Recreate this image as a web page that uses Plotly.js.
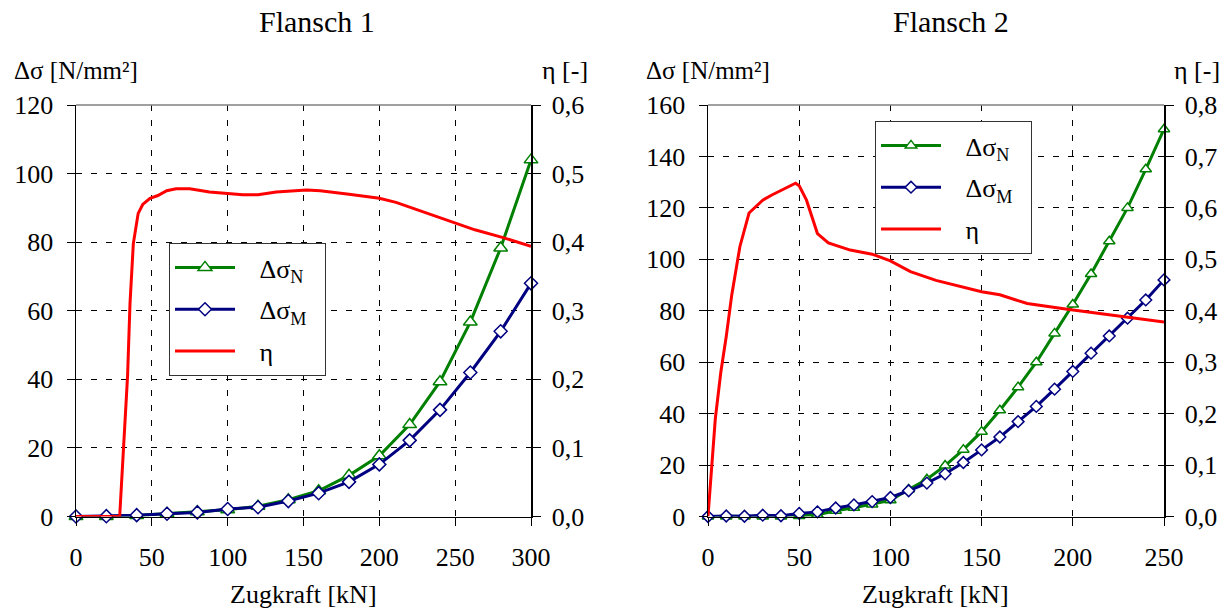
<!DOCTYPE html>
<html>
<head>
<meta charset="utf-8">
<script src="https://cdn.plot.ly/plotly-3.0.1.min.js"></script>
<style>html,body{margin:0;padding:0;background:#fff;}#chart{width:1229px;height:610px;}</style>
</head>
<body>
<div id="chart"></div>
<script>
// ---- Flansch 1 ----
const force1 = [0,20,40,60,80,100,120,140,160,180,200,220,240,260,280,300];
const dsN1 = [0,0,0.3,0.9,1.4,2,3,4.9,7.5,12,17.7,26.8,39.3,56.7,78.3,104];
const dsM1 = [0,0.1,0.4,0.8,1.2,2.2,2.7,4.5,6.8,10.1,15.2,22.2,31.1,42,54,68];
const etaX1 = [0,28.8,34,35.6,37.8,41,44,48.8,54,59.8,66,75,88,110,120,132,152,161,180,200,211,237,263,281,300];
const eta1 = [0,0,0.205,0.31,0.398,0.442,0.455,0.464,0.468,0.475,0.478,0.478,0.473,0.469,0.469,0.473,0.476,0.475,0.47,0.464,0.458,0.438,0.418,0.407,0.394];

// ---- Flansch 2 ----
const force2 = [0,10,20,30,40,50,60,70,80,90,100,110,120,130,140,150,160,170,180,190,200,210,220,230,240,250];
const dsN2 = [0,0,0,0,0,0.2,0.7,2.2,3.4,4.7,6.3,10.5,14.5,19.8,26,33,41.3,50.3,60,71.2,82.4,94.3,107,120,135,150.6];
const dsM2 = [0,0.2,0.1,0.5,0.3,1.2,1.8,3.3,4.5,5.8,7.4,10,13,16.6,21,25.9,30.9,36.9,42.8,49.5,56.4,63.5,70.2,77.1,84.2,92];
const etaX2 = [0,2,4,7,10,13,17.5,22.5,30,35,41,48,50,54,60,66,78,90,100,111,125,135,150,160,175,197,210,220,229,250];
const eta2 = [0,0.097,0.19,0.28,0.35,0.43,0.525,0.59,0.615,0.625,0.635,0.648,0.643,0.615,0.55,0.532,0.518,0.51,0.497,0.476,0.459,0.45,0.437,0.431,0.414,0.403,0.397,0.392,0.388,0.378];

// labels
const NB = '\u00a0';
const nameN = NB + NB + NB + 'Δσ<sub>N</sub>' + NB + NB;
const nameM = NB + NB + NB + 'Δσ<sub>M</sub>' + NB + NB;
const nameEta = NB + NB + NB + 'η<sub>' + NB + '</sub>';
const titles = ['Flansch 1', 'Flansch 2'];
const xTitle = 'Zugkraft [kN]';
const yTitle = 'Δσ [N/mm²]';
const y2Title = 'η [-]';

const GREEN = '#008000', NAVY = '#000080', RED = '#FF0000';
const FONT = 'Liberation Serif';
const W = 1229, H = 610;
const px = v => v / W;
const py = v => 1 - v / H;

function traces(fx, n, m, ex, e, xa, ya, ya2, leg, msT, msD) {
  return [
    {x: fx, y: n, xaxis: xa, yaxis: ya, name: nameN, legend: leg, legendgroup: leg + 'N', type: 'scatter', mode: 'lines+markers',
     cliponaxis: false,
     line: {color: GREEN, width: 3}, marker: {symbol: 'triangle-up', size: msT, color: '#fff', line: {color: GREEN, width: 1.5}}},
    {x: fx, y: m, xaxis: xa, yaxis: ya, name: nameM, legend: leg, legendgroup: leg + 'M', type: 'scatter', mode: 'lines+markers',
     cliponaxis: false,
     line: {color: NAVY, width: 3}, marker: {symbol: 'diamond', size: msD, color: '#fff', line: {color: NAVY, width: 1.5}}},
    {x: ex, y: e, xaxis: xa, yaxis: ya2, name: nameEta, legend: leg, legendgroup: leg + 'E', type: 'scatter', mode: 'lines',
     line: {color: RED, width: 3}}
  ];
}

const data = [
  ...traces(force1, dsN1, dsM1, etaX1, eta1, 'x', 'y', 'y2', 'legend', 12, 10),
  ...traces(force2, dsN2, dsM2, etaX2, eta2, 'x2', 'y3', 'y4', 'legend2', 10, 9)
];

const ydom = [1 - 516.5 / H, 1 - 105 / H];
const tickfont = () => ({family: FONT, size: 26, color: '#000'});
const grid = {showgrid: true, gridcolor: '#000', gridwidth: 1, griddash: '6px,9px'};

function xax(dom, anchor, range, dt) {
  return Object.assign({domain: dom, anchor: anchor, range: range, dtick: dt, tick0: 0,
    showline: true, linecolor: '#000', linewidth: 1.5, ticks: 'outside', ticklen: 8, tickcolor: '#000',
    zeroline: false, tickfont: tickfont(), ticklabelstandoff: 9, automargin: false, fixedrange: true}, grid);
}
function yax(anchor, range, dt) {
  return Object.assign({domain: ydom, anchor: anchor, range: range, dtick: dt, tick0: 0,
    showline: true, linecolor: '#000', linewidth: 1.5, ticks: 'outside', ticklen: 8, tickcolor: '#000',
    zeroline: false, tickfont: tickfont(), ticklabelstandoff: 8, automargin: false}, grid);
}
function y2ax(anchor, over, range) {
  return {overlaying: over, side: 'right', anchor: anchor, range: range, dtick: 0.1, tick0: 0, tickformat: '.1f',
    showline: true, linecolor: '#000', linewidth: 1.5, ticks: 'outside', ticklen: 8, tickcolor: '#000',
    showgrid: false, zeroline: false, tickfont: tickfont(), ticklabelstandoff: 6, automargin: false};
}

const ann = (text, x, y, xanchor, size) => ({text: text, x: x, y: y, xref: 'paper', yref: 'paper',
  xanchor: xanchor, yanchor: 'middle', showarrow: false, font: {family: FONT, size: size, color: '#000'}});

const legendStyle = (x, y) => ({x: x, y: y, xanchor: 'left', yanchor: 'top', bgcolor: '#fff',
  bordercolor: '#333', borderwidth: 1, font: {family: FONT, size: 26, color: '#000'}, itemwidth: 60,
  traceorder: 'grouped', tracegroupgap: 5});

const topLine = (xr, yr) => ({type: 'line', xref: xr + ' domain', yref: yr + ' domain', x0: 0, x1: 1, y0: 1, y1: 1,
  line: {color: '#808080', width: 1.5}, layer: 'above'});

const layout = {
  width: W, height: H,
  margin: {l: 0, r: 0, t: 0, b: 0},
  paper_bgcolor: '#fff', plot_bgcolor: '#fff',
  separators: ',.',
  font: {family: FONT, color: '#000'},
  xaxis: xax([px(76), px(531)], 'y', [0, 300], 50),
  yaxis: yax('x', [0, 120], 20),
  yaxis2: y2ax('x', 'y', [0, 0.6]),
  xaxis2: xax([px(708), px(1164)], 'y3', [0, 250], 50),
  yaxis3: yax('x2', [0, 160], 20),
  yaxis4: y2ax('x2', 'y3', [0, 0.8]),
  legend: legendStyle(px(169), py(243)),
  legend2: legendStyle(px(875), py(121)),
  shapes: [topLine('x', 'y'), topLine('x2', 'y3')],
  annotations: [
    ann(titles[0], px(317), py(21.5), 'center', 30),
    ann(titles[1], px(951), py(21.5), 'center', 30),
    ann(yTitle, px(12), py(70), 'left', 25),
    ann(y2Title, px(540), py(70), 'left', 26),
    ann(yTitle, px(644), py(70), 'left', 25),
    ann(y2Title, px(1172), py(70), 'left', 26),
    ann(xTitle, px(303), py(594.5), 'center', 26),
    ann(xTitle, px(935), py(594.5), 'center', 26)
  ]
};

Plotly.newPlot('chart', data, layout, {staticPlot: true, displayModeBar: false});
</script>
</body>
</html>
